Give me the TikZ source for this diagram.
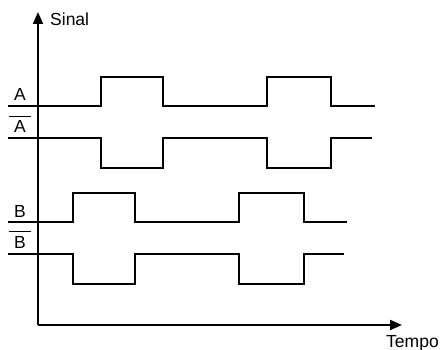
\documentclass[tikz,border=0pt]{standalone}
\usepackage{fontspec}
\setmainfont{Liberation Sans}
\usetikzlibrary{arrows.meta}
\begin{document}
\begin{tikzpicture}[x=1pt,y=-1pt,
  sig/.style={line width=1.4pt,line join=miter},
  axis/.style={line width=2pt,-{Triangle[length=12pt,width=10pt]}},
  lbl/.style={inner sep=0pt,anchor=base,font=\fontsize{17.5}{17.5}\selectfont},
  bar/.style={line width=1.2pt}]
\useasboundingbox (0,0) rectangle (442,350);
% axes
\coordinate (O) at (38,325);
\coordinate (ytop) at (38,12);
\coordinate (xend) at (402,325);
\draw[axis] (O) -- (ytop);
\draw[axis] (O) -- (xend);
\node[lbl,anchor=base west] (sinal) at (50,26) {Sinal};
\node[lbl,anchor=base west] (tempo) at (386,347) {Tempo};
% labels
\node[lbl] (la) at (20,101) {A};
\node[lbl] (lab) at (20,133) {A};
\node[lbl] (lb) at (20,217) {B};
\node[lbl] (lbb) at (20,248) {B};
\draw[bar] ([xshift=-5pt,yshift=4pt]lab.north west) -- ([xshift=5pt,yshift=4pt]lab.north east);
\draw[bar] ([xshift=-5pt,yshift=4pt]lbb.north west) -- ([xshift=5pt,yshift=4pt]lbb.north east);
% signals
\draw[sig] (8,106) -- (101,106) -- (101,77) -- (163,77) -- (163,106) -- (267,106) -- (267,77) -- (331,77) -- (331,106) -- (375,106);
\draw[sig] (8,138) -- (101,138) -- (101,168) -- (163,168) -- (163,138) -- (267,138) -- (267,168) -- (331,168) -- (331,138) -- (372,138);
\draw[sig] (8,222) -- (73,222) -- (73,193) -- (135,193) -- (135,222) -- (239,222) -- (239,193) -- (304,193) -- (304,222) -- (347,222);
\draw[sig] (8,254) -- (73,254) -- (73,284) -- (135,284) -- (135,254) -- (239,254) -- (239,284) -- (304,284) -- (304,254) -- (344,254);
\end{tikzpicture}
\end{document}
